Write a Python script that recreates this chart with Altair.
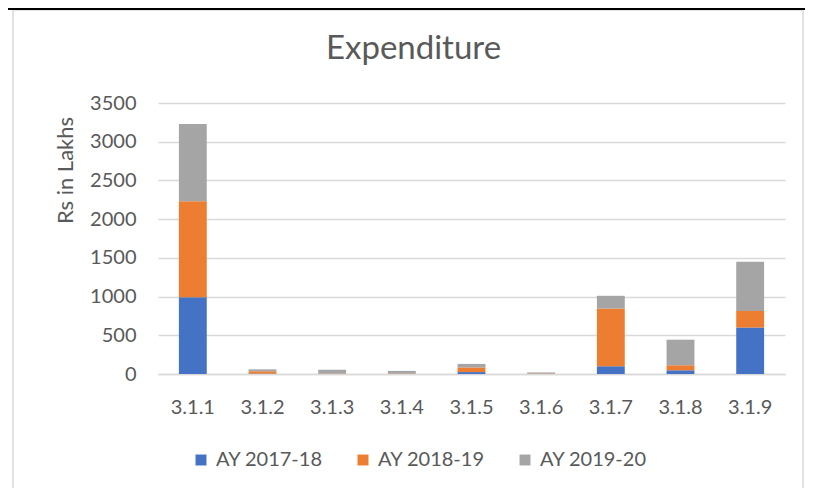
import altair as alt
import pandas as pd

categories = ["3.1.1", "3.1.2", "3.1.3", "3.1.4", "3.1.5", "3.1.6", "3.1.7", "3.1.8", "3.1.9"]
series = ["AY 2017-18", "AY 2018-19", "AY 2019-20"]
ay_2017_18 = [990, 5, 2, 2, 25, 3, 100, 48, 600]
ay_2018_19 = [1240, 30, 5, 5, 60, 5, 745, 65, 215]
ay_2019_20 = [1000, 25, 48, 33, 45, 12, 165, 330, 635]
colors = ["#4472C4", "#ED7D31", "#A5A5A5"]
y_ticks = [0, 500, 1000, 1500, 2000, 2500, 3000, 3500]

rows = []
for si, (name, vals) in enumerate(zip(series, [ay_2017_18, ay_2018_19, ay_2019_20])):
    for c, v in zip(categories, vals):
        rows.append({"cat": c, "series": name, "value": v, "order": si})
df = pd.DataFrame(rows)

FONT = "Lato"
TXT = "#595959"

bars = alt.Chart(df).mark_bar().encode(
    x=alt.X("cat:N", sort=categories,
            scale=alt.Scale(paddingInner=0.6, paddingOuter=0.3),
            axis=alt.Axis(title=None, labelAngle=0, labelFontSize=20, labelColor=TXT,
                          labelFont=FONT, ticks=False, domain=True, domainColor="#D9D9D9",
                          domainWidth=1.5, labelPadding=23, grid=False)),
    y=alt.Y("value:Q", stack="zero",
            scale=alt.Scale(domain=[0, 3500], nice=False),
            axis=alt.Axis(values=y_ticks, format="d", title="Rs in Lakhs", titleFontSize=22,
                          titleFont=FONT, titleColor=TXT, titleFontWeight="normal",
                          titleX=-93, titleY=67, titleBaseline="middle", titleAlign="center",
                          labelFontSize=20, labelColor=TXT, labelFont=FONT, labelPadding=22,
                          ticks=False, domain=False, gridColor="#D9D9D9", gridWidth=1.5)),
    color=alt.Color("series:N", sort=series,
                    scale=alt.Scale(domain=series, range=colors),
                    legend=alt.Legend(title=None, orient="none", legendX=33, legendY=347,
                                      direction="horizontal", symbolType="square",
                                      symbolSize=120, symbolStrokeWidth=0,
                                      labelFontSize=20, labelColor=TXT, labelFont=FONT,
                                      labelOffset=5, columnPadding=30, labelLimit=200)),
    order=alt.Order("order:Q", sort="ascending"),
)

frame = alt.Chart(pd.DataFrame({"a": [0]})).mark_rect(
    fill=None, stroke="#D9D9D9", strokeWidth=1.5
).encode(x=alt.value(-145), x2=alt.value(645), y=alt.value(-93), y2=alt.value(386))

topline = alt.Chart(pd.DataFrame({"a": [0]})).mark_rule(
    color="black", strokeWidth=2
).encode(x=alt.value(-160), x2=alt.value(660), y=alt.value(-94))

chart = alt.layer(frame, topline, bars).properties(
    width=627, height=271,
    title=alt.TitleParams("Expenditure", fontSize=33, font=FONT, color=TXT,
                          fontWeight="normal", anchor="middle", dx=-58, offset=-58,
                          frame="group"),
    autosize=alt.AutoSizeParams(type="none"),
    padding={"left": 150, "top": 95, "right": 20, "bottom": 114},
).configure_view(stroke=None)

chart.save("out.html", embed_options={"renderer": "svg", "actions": False})
